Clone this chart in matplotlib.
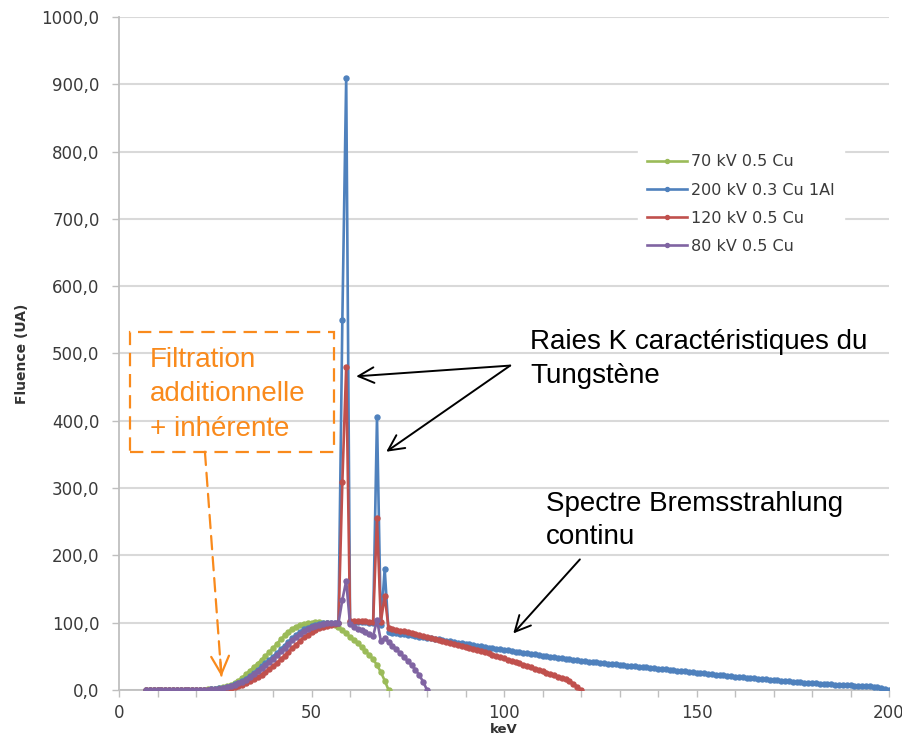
import numpy as np
import matplotlib
matplotlib.use("Agg")
import matplotlib.pyplot as plt
from matplotlib.patches import Rectangle
from matplotlib.ticker import MultipleLocator, FuncFormatter

# spectres normalises (fluence relative), pas de 1 keV a partir de 7 keV
fl_70kv = [0.0, 0.0, 0.0, 0.0, 0.0, 0.0, 0.0, 0.1, 0.1, 0.1, 0.1, 0.2, 0.2, 0.3,
           0.4, 0.6, 0.9, 1.3, 1.9, 2.8, 4.0, 5.6, 7.8, 10.5,
           14.0, 18.5, 23.5, 28.8, 34.0, 39.3, 44.8, 50.3, 56.0, 62.0,
           68.5, 75.0, 81.0, 86.3, 90.8, 94.3, 96.8, 98.5, 99.5, 100.0,
           100.3, 100.3, 100.0, 99.4, 98.2, 96.3, 93.0, 88.8, 84.0, 79.0,
           74.5, 69.5, 64.0, 58.0, 52.0, 45.5, 37.0, 26.5, 14.0, 0.0]

fl_200kv = [0.0, 0.0, 0.0, 0.0, 0.0, 0.0, 0.0, 0.0, 0.1, 0.1, 0.1, 0.1, 0.2, 0.2, 0.3, 0.4,
            0.5, 0.9, 1.5, 2.3, 3.3, 4.6, 6.2, 8.2, 10.6, 13.5,
            17.0, 21.0, 25.5, 30.0, 35.0, 40.0, 44.5, 49.5, 55.0, 60.5,
            66.0, 71.5, 77.0, 82.0, 86.5, 90.0, 92.8, 95.0, 96.7, 98.0,
            98.9, 99.5, 99.8, 100.0, 100.0,
            550.0, 910.0, 101.5, 101.3, 101.0, 100.8, 100.5, 100.2, 100.0, 405.0, 97.0, 180.0, 86.0,
            85.2, 84.4, 83.5, 82.7, 81.8, 81.0, 80.1, 79.3, 78.4, 77.6,
            76.7, 75.9, 75.0, 74.1, 73.2, 72.3, 71.4, 70.5, 69.5, 68.6,
            67.7, 66.7, 65.8, 64.9, 64.0, 63.1, 62.2, 61.3, 60.4, 59.5,
            58.7, 57.8, 57.0, 56.2, 55.4, 54.5, 53.7, 52.9, 52.0, 51.2,
            50.4, 49.5, 48.7, 47.9, 47.0, 46.2, 45.4, 44.6, 44.0, 43.4,
            42.8, 42.2, 41.6, 41.1, 40.5, 39.9, 39.3, 38.7, 38.1, 37.5,
            36.9, 36.3, 35.7, 35.1, 34.6, 34.0, 33.4, 32.8, 32.3, 31.7,
            31.1, 30.5, 29.9, 29.4, 28.8, 28.2, 27.6, 27.0, 26.4, 25.8,
            25.2, 24.6, 24.0, 23.4, 22.8, 22.2, 21.6, 21.0, 20.4, 19.8,
            19.2, 18.6, 18.0, 17.5, 17.1, 16.6, 16.1, 15.6, 15.2, 14.7,
            14.2, 13.8, 13.3, 12.8, 12.4, 11.9, 11.4, 10.9, 10.5, 10.0,
            9.7, 9.4, 9.1, 8.8, 8.4, 8.1, 7.8, 7.5, 7.2, 6.9,
            6.6, 6.3, 5.9, 5.6, 5.3, 5.0, 4.2, 3.0, 1.6, 0.2]

fl_120kv = [0.0, 0.0, 0.0, 0.0, 0.0, 0.0, 0.0, 0.0, 0.0, 0.0, 0.0, 0.0, 0.1, 0.1, 0.1, 0.2,
            0.2, 0.3, 0.5, 0.8, 1.3, 2.0, 3.0, 4.2, 5.8, 7.7,
            10.0, 12.8, 15.8, 19.0, 22.5, 26.5, 30.5, 35.0, 40.0, 45.5,
            51.0, 56.5, 62.0, 67.5, 73.0, 78.0, 82.3, 86.0, 89.0, 91.6,
            93.8, 95.6, 97.0, 98.2, 99.0,
            309.0, 480.0, 102.0, 102.3, 102.3, 102.0, 101.8, 101.5, 101.0, 255.0, 101.0, 140.0, 92.0,
            90.8, 89.6, 88.3, 87.1, 85.8, 84.5, 83.1, 81.7, 80.3, 79.0,
            77.6, 76.2, 74.8, 73.4, 71.9, 70.4, 68.9, 67.4, 65.9, 64.4,
            62.7, 61.0, 59.3, 57.6, 55.9, 54.2, 52.4, 50.6, 48.8, 47.0,
            45.2, 43.3, 41.4, 39.5, 37.6, 35.6, 33.7, 31.7, 29.7, 27.8,
            25.8, 23.9, 21.9, 20.0, 18.2, 16.4, 13.5, 9.5, 5.0, 0.0]

fl_80kv = [0.0, 0.0, 0.0, 0.0, 0.0, 0.0, 0.0, 0.0, 0.1, 0.1, 0.1, 0.1, 0.2, 0.2, 0.3, 0.3,
           0.4, 0.8, 1.3, 2.0, 3.0, 4.2, 5.7, 7.5, 9.7, 12.3,
           15.5, 19.2, 23.2, 27.5, 32.0, 36.7, 41.5, 46.5, 52.0, 57.5,
           63.0, 68.5, 74.0, 79.0, 83.5, 87.5, 90.8, 93.5, 95.6, 97.2,
           98.3, 99.0, 99.4, 99.6, 99.7,
           134.0, 162.0, 97.5, 94.0, 91.0, 88.5, 86.0, 83.0, 80.0, 104.0, 73.0, 77.0,
           71.0, 66.0, 60.5, 55.0, 49.0, 43.0, 37.0, 30.0, 22.0, 12.0, 0.0]

series = [("70 kV 0.5 Cu", fl_70kv, "#9BBB59"),
          ("200 kV 0.3 Cu 1Al", fl_200kv, "#4F81BD"),
          ("120 kV 0.5 Cu", fl_120kv, "#C0504D"),
          ("80 kV 0.5 Cu", fl_80kv, "#8064A2")]

e_start = 7
orange = "#F98A1C"
txt_font = ["Liberation Sans", "DejaVu Sans"]

fig = plt.figure(figsize=(9.02, 7.4), dpi=100)
ax = fig.add_axes([0.132, 0.0676, 0.8536, 0.9095])

for label, vals, col in series:
    kev = np.arange(e_start, e_start + len(vals))
    ax.plot(kev, vals, color=col, lw=1.9, marker="o", ms=3.6, mec=col, label=label, zorder=3)

ax.set_xlim(0, 200)
ax.set_ylim(0, 1000)
ax.xaxis.set_major_locator(MultipleLocator(50))
ax.xaxis.set_minor_locator(MultipleLocator(10))
ax.yaxis.set_major_locator(MultipleLocator(100))
ax.yaxis.set_major_formatter(FuncFormatter(lambda v, p: f"{v:.1f}".replace(".", ",")))
ax.grid(axis="y", color="#D9D9D9", lw=1.5, zorder=0)
ax.set_axisbelow(True)
for s in ["top", "right"]:
    ax.spines[s].set_visible(False)
for s in ["left", "bottom"]:
    ax.spines[s].set_color("#BFBFBF")
    ax.spines[s].set_linewidth(1.3)
ax.tick_params(which="both", direction="out", color="#BFBFBF", length=5, width=1,
               labelsize=12, labelcolor="#3A3A3A")
ax.tick_params(axis="y", pad=9)
ax.tick_params(axis="x", pad=5)

ax.set_xlabel("keV", fontsize=9.5, fontweight="bold", color="#333333", labelpad=1)
ax.set_ylabel("Fluence (UA)", fontsize=10, fontweight="bold", color="#333333", labelpad=9)

leg = ax.legend(loc="upper left", bbox_to_anchor=(0.698, 0.815), bbox_transform=fig.transFigure,
                frameon=True, fancybox=False, edgecolor="white", framealpha=1,
                fontsize=11.5, handlelength=2.5, handletextpad=0.25, labelspacing=0.82,
                borderpad=0.6, markerscale=0.8)
for t in leg.get_texts():
    t.set_color("#3A3A3A")

# raies K du tungstene
ax.text(106.8, 536, "Raies K caractéristiques du\nTungstène", fontsize=20,
        family=txt_font, va="top", ha="left", linespacing=1.38)
for tip in [(61.6, 466), (69.4, 354)]:
    ax.annotate("", xy=tip, xytext=(101.6, 482),
                arrowprops=dict(arrowstyle="->", lw=1.4, color="black", mutation_scale=28,
                                shrinkA=0, shrinkB=0))

# fond continu
ax.text(110.8, 296, "Spectre Bremsstrahlung\ncontinu", fontsize=20,
        family=txt_font, va="top", ha="left", linespacing=1.38)
ax.annotate("", xy=(102.4, 84), xytext=(119.7, 194),
            arrowprops=dict(arrowstyle="->", lw=1.4, color="black", mutation_scale=28,
                            shrinkA=0, shrinkB=0))

# filtration
ax.add_patch(Rectangle((2.9, 354), 52.9, 178, fill=False, ec=orange, lw=1.6,
                       ls=(0, (6, 3.5)), zorder=4))
ax.text(8.0, 510, "Filtration\nadditionnelle\n+ inhérente", fontsize=20, color=orange,
        family=txt_font, va="top", ha="left", linespacing=1.42)
ax.annotate("", xy=(26.6, 20), xytext=(22.3, 354),
            arrowprops=dict(arrowstyle="-", lw=1.6, color=orange, ls=(0, (6, 3.5)),
                            shrinkA=0, shrinkB=0))
ax.annotate("", xy=(26.6, 20), xytext=(26.3, 45),
            arrowprops=dict(arrowstyle="->", lw=1.6, color=orange,
                            mutation_scale=32, shrinkA=0, shrinkB=0))

fig.savefig("out.png", dpi=100)
